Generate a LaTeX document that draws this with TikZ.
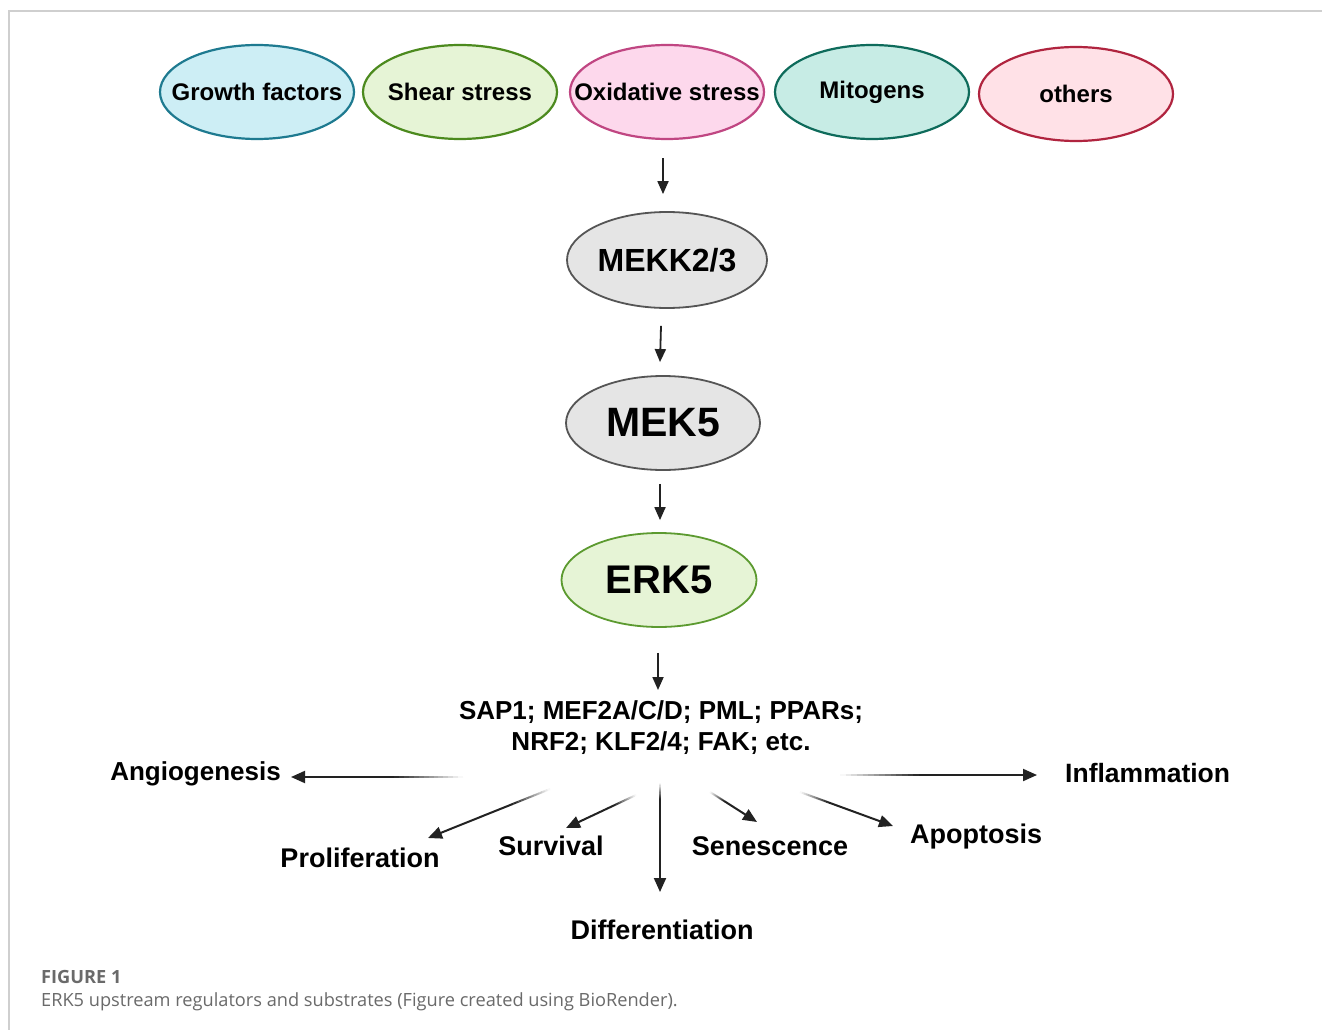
\documentclass[tikz,border=0pt]{standalone}
\usepackage{fontspec}
\setmainfont{Liberation Sans}
\newfontfamily\capfont{Open Sans}
\usetikzlibrary{shapes.geometric,arrows.meta,calc}
\definecolor{gfFill}{HTML}{CDEEF5}\definecolor{gfLine}{HTML}{1E7A90}
\definecolor{ssFill}{HTML}{E6F4D6}\definecolor{ssLine}{HTML}{4C8A1E}
\definecolor{oxFill}{HTML}{FDD8EC}\definecolor{oxLine}{HTML}{C04682}
\definecolor{miFill}{HTML}{C7ECE5}\definecolor{miLine}{HTML}{0E6B5B}
\definecolor{otFill}{HTML}{FFE1E7}\definecolor{otLine}{HTML}{B0243F}
\definecolor{grFill}{HTML}{E5E5E5}\definecolor{grLine}{HTML}{555555}
\definecolor{erFill}{HTML}{E6F4D6}\definecolor{erLine}{HTML}{5C9A30}
\definecolor{arrc}{HTML}{222222}
\definecolor{framec}{HTML}{CFCFCF}
\definecolor{capc}{HTML}{6A6A6A}
\newcommand{\zb}[1]{\makebox[0pt]{#1}}
\begin{document}
\begin{tikzpicture}[x=1pt,y=-1pt,
  topell/.style={ellipse, minimum width=194pt, minimum height=94pt, inner sep=0pt, line width=2.2pt,
    font=\fontsize{24}{28}\selectfont\bfseries},
  midell/.style={ellipse, inner sep=0pt, line width=1.8pt},
  lbl/.style={inner sep=0pt, anchor=base, font=\fontsize{27}{32}\selectfont\bfseries},
  varr/.style={line width=1.8pt, draw=arrc, -{Triangle[length=13pt,width=11pt]}},
  sarr/.style={line width=2pt, draw=arrc, -{Triangle[length=14pt,width=12pt]}},
  fseg/.style={line width=2pt, line cap=butt}
]
\useasboundingbox (0,0) rectangle (1322,1030);
\fill[white] (0,0) rectangle (1322,1030);
% frame
\draw[framec, line width=1.5pt] (9,1030) -- (9,11) -- (1322,11);

% top row
\node[topell, fill=gfFill, draw=gfLine] (gf) at (257,92) {\zb{Growth factors}};
\node[topell, fill=ssFill, draw=ssLine] (ss) at (460,92) {\zb{Shear stress}};
\node[topell, fill=oxFill, draw=oxLine] (ox) at (667,92) {\zb{Oxidative stress}};
\node[topell, fill=miFill, draw=miLine] (mi) at (872,92) {\zb{Mitogens}};
\node[topell, fill=otFill, draw=otLine] (ot) at (1076,94) {\zb{others}};

% cascade
\node[midell, fill=grFill, draw=grLine, minimum width=200pt, minimum height=96pt,
  font=\fontsize{32}{36}\selectfont\bfseries] (mekk) at (667,260) {\zb{MEKK2/3}};
\node[midell, fill=grFill, draw=grLine, minimum width=194pt, minimum height=94pt,
  font=\fontsize{41}{46}\selectfont\bfseries] (mek) at (663,423) {\zb{MEK5}};
\node[midell, fill=erFill, draw=erLine, minimum width=195pt, minimum height=94pt,
  font=\fontsize{40}{46}\selectfont\bfseries] (erk) at (659,580) {\zb{ERK5}};
\node[inner sep=0pt, anchor=north, align=center, font=\fontsize{26}{31}\selectfont\bfseries]
  (subs) at (661,700) {SAP1; MEF2A/C/D; PML; PPARs;\\NRF2; KLF2/4; FAK; etc.};

\draw[varr] ([shift={(-4,18)}]ox.south) -- ([shift={(-4,-17)}]mekk.north);
\draw[varr] ([shift={(-6,17)}]mekk.south) -- ([shift={(-3,-13)}]mek.north);
\draw[varr] ([shift={(-3,13)}]mek.south) -- ([shift={(1,-12)}]erk.north);
\draw[varr] ([shift={(-1,25)}]erk.south) -- ([shift={(-3,-10)}]subs.north);

% outcome labels
\node[lbl, anchor=base east, font=\fontsize{26}{32}\selectfont\bfseries] (angio) at (281,780) {Angiogenesis};
\node[lbl, anchor=base west, font=\fontsize{26.5}{32}\selectfont\bfseries] (infl) at (1065,782) {Inflammation};
\node[lbl] (prolif) at (360,867) {Proliferation};
\node[lbl] (surv) at (551,855) {Survival};
\node[lbl] (diff) at (662,939) {Differentiation};
\node[lbl] (sene) at (770,855) {Senescence};
\node[lbl, anchor=base west] (apop) at (910,843) {Apoptosis};

% arrow start points (free ends)
\coordinate (aS) at (463,777);
\coordinate (iS) at (840,775);
\coordinate (pS) at (550,789);
\coordinate (sS) at (636,795);
\coordinate (dS) at (660,783);
\coordinate (nS) at (710,792);
\coordinate (oS) at (800,792);
% arrow tips relative to labels
\coordinate (aT) at ([shift={(10,-3)}]angio.base east);
\coordinate (iT) at ([shift={(-28,-7)}]infl.base west);
\coordinate (pT) at ([shift={(68,-29)}]prolif.base);
\coordinate (sT) at ([shift={(15,-27)}]surv.base);
\coordinate (dT) at ([shift={(-2,-47)}]diff.base);
\coordinate (nT) at ([shift={(-13,-33)}]sene.base);
\coordinate (oT) at ([shift={(-17,-17)}]apop.base west);
% fade midpoints
\coordinate (aM) at ($(aS)!0.4!(aT)$);
\coordinate (iM) at ($(iS)!0.4!(iT)$);
\coordinate (pM) at ($(pS)!0.3!(pT)$);
\coordinate (sM) at ($(sS)!0.3!(sT)$);
\coordinate (dM) at ($(dS)!0.15!(dT)$);
\coordinate (nM) at ($(nS)!0.3!(nT)$);
\coordinate (oM) at ($(oS)!0.3!(oT)$);

\foreach \s/\m in {aS/aM, iS/iM, pS/pM, sS/sM, dS/dM, nS/nM, oS/oM}{
  \foreach \i in {0,...,13}{
    \pgfmathsetmacro\fa{\i/14}
    \pgfmathsetmacro\fb{(\i+1)/14}
    \pgfmathtruncatemacro\pc{100*(\i+0.5)/14}
    \draw[fseg, draw=arrc!\pc!white] ($(\s)!\fa!(\m)$) -- ($(\s)!\fb!(\m)$);
  }
}
\draw[sarr] (aM) -- (aT);
\draw[sarr] (iM) -- (iT);
\draw[sarr] (pM) -- (pT);
\draw[sarr] (sM) -- (sT);
\draw[sarr] (dM) -- (dT);
\draw[sarr] (nM) -- (nT);
\draw[sarr] (oM) -- (oT);

% caption
\node[inner sep=0pt, anchor=base west, text=capc, font=\capfont\fontsize{18.2}{21}\selectfont\bfseries] (figlab) at (41,983) {FIGURE 1};
\node[inner sep=0pt, anchor=base west, text=capc, font=\capfont\fontsize{18.2}{21}\selectfont] (figcap) at (41,1006) {ERK5 upstream regulators and substrates (Figure created using BioRender).};
\end{tikzpicture}
\end{document}
